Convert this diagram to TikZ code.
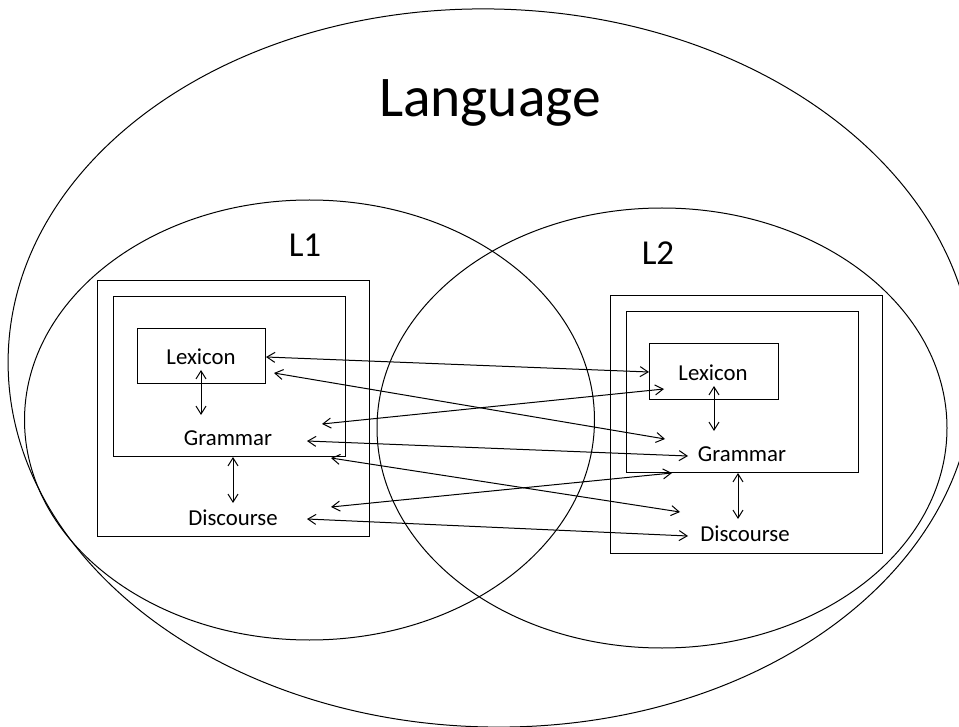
\documentclass[tikz,border=0pt]{standalone}
\usepackage{fontspec}
\setmainfont{Carlito}
\usetikzlibrary{arrows.meta}
\begin{document}
\begin{tikzpicture}[x=1pt,y=-1pt, line width=1pt,
  box/.style={draw, rectangle, inner sep=0pt, line width=1pt},
  lbl/.style={font=\fontsize{22.8}{26}\selectfont, inner sep=0pt, anchor=base},
  biglbl/.style={font=\fontsize{35}{40}\selectfont, inner sep=0pt, anchor=base},
  link/.style={{Straight Barb[length=8pt,width=10pt]}-{Straight Barb[length=8pt,width=10pt]}, line width=1pt},
]
\useasboundingbox (0,0) rectangle (959,727);

% ellipses
\draw[rotate around={-1.5:(491,368)}] (491,368) ellipse [x radius=483, y radius=359];
\draw (309.5,420) ellipse [x radius=285, y radius=220];
\draw (662,428) ellipse [x radius=285, y radius=220];

% titles
\node[font=\fontsize{57.5}{62}\selectfont, inner sep=0pt, anchor=base] (lang) at (490,117) {Language};
\node[biglbl] (lone) at (305,257) {L1};
\node[biglbl] (ltwo) at (658,265) {L2};

% left boxes
\node[box, minimum width=272pt, minimum height=255pt] (outL) at (233,408.5) {};
\node[box, minimum width=232pt, minimum height=159pt] (inL) at (229,376.5) {};
\node[box, minimum width=128pt, minimum height=55pt] (lexboxL) at (201,356.5) {};

% right boxes
\node[box, minimum width=272pt, minimum height=257pt] (outR) at (746,424.5) {};
\node[box, minimum width=232pt, minimum height=160pt] (inR) at (742,392) {};
\node[box, minimum width=129pt, minimum height=56pt] (lexboxR) at (713.5,372) {};

% labels
\node[lbl] (lexL) at (201,365) {Lexicon};
\node[lbl] (gramL) at (228,445) {Grammar};
\node[lbl] (discL) at (233,525) {Discourse};
\node[lbl] (lexR) at (713,381) {Lexicon};
\node[lbl] (gramR) at (742,461) {Grammar};
\node[lbl] (discR) at (745,541) {Discourse};

% arrow end points
\coordinate (vL1a) at (201,370); \coordinate (vL1b) at (201,415);
\coordinate (vL2a) at (233,457); \coordinate (vL2b) at (233,503);
\coordinate (vR1a) at (714,386); \coordinate (vR1b) at (714,431);
\coordinate (vR2a) at (738,473); \coordinate (vR2b) at (738,519);

\coordinate (a1l) at (266,357); \coordinate (a1r) at (649,372);
\coordinate (a2l) at (274,373); \coordinate (a2r) at (665,439);
\coordinate (a3l) at (322,424); \coordinate (a3r) at (664,389);
\coordinate (a4l) at (307,441); \coordinate (a4r) at (688,456);
\coordinate (a5l) at (331,458); \coordinate (a5r) at (680,512);
\coordinate (a6l) at (331,507); \coordinate (a6r) at (672,473);
\coordinate (a7l) at (307,519); \coordinate (a7r) at (688,536);

\draw[link] (vL1a) -- (vL1b);
\draw[link] (vL2a) -- (vL2b);
\draw[link] (vR1a) -- (vR1b);
\draw[link] (vR2a) -- (vR2b);

\draw[link] (a1l) -- (a1r);
\draw[link] (a2l) -- (a2r);
\draw[link] (a3l) -- (a3r);
\draw[link] (a4l) -- (a4r);
\draw[link] (a5l) -- (a5r);
\draw[link] (a6l) -- (a6r);
\draw[link] (a7l) -- (a7r);
\end{tikzpicture}
\end{document}
